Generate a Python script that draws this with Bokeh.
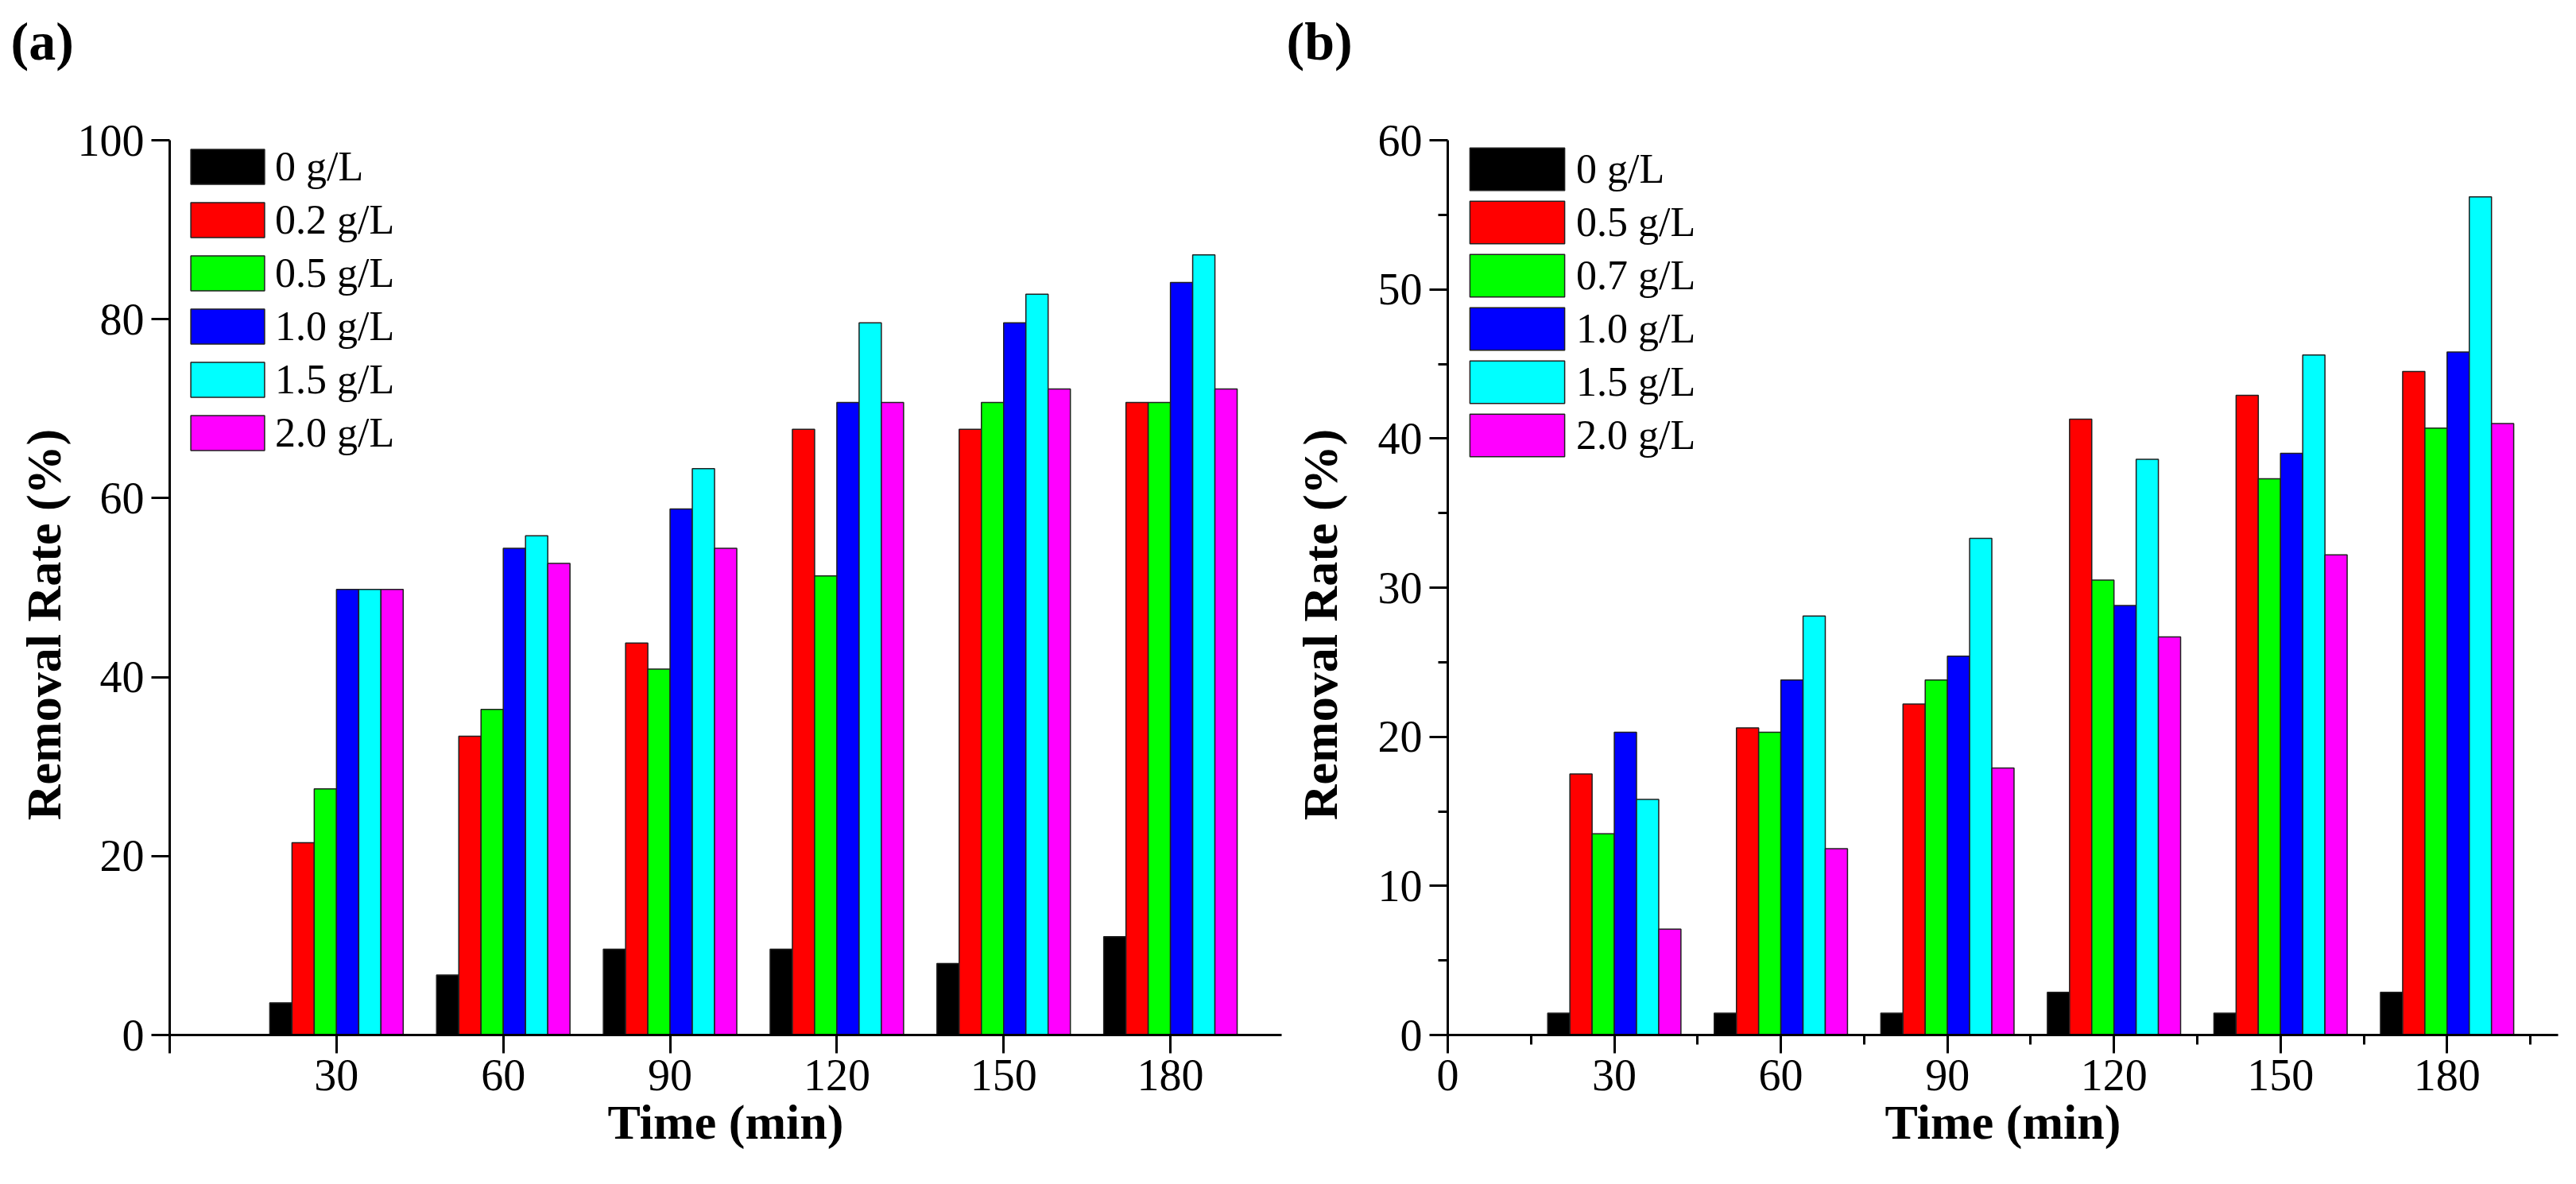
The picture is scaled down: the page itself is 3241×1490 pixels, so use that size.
from bokeh.plotting import figure
from bokeh.models import Range1d, FixedTicker, ColumnDataSource, Legend, LegendItem, Title
from bokeh.layouts import row
from bokeh.transform import dodge
from bokeh.embed import file_html
from bokeh.resources import INLINE

# ---------------- data ----------------
times = [30, 60, 90, 120, 150, 180]

a_labels = ["0 g/L", "0.2 g/L", "0.5 g/L", "1.0 g/L", "1.5 g/L", "2.0 g/L"]
a_0 = [3.6, 6.7, 9.6, 9.6, 8.0, 11.0]
a_02 = [21.5, 33.4, 43.8, 67.7, 67.7, 70.7]
a_05 = [27.5, 36.4, 40.9, 51.3, 70.7, 70.7]
a_10 = [49.8, 54.4, 58.8, 70.7, 79.6, 84.1]
a_15 = [49.8, 55.8, 63.3, 79.6, 82.8, 87.2]
a_20 = [49.8, 52.7, 54.4, 70.7, 72.2, 72.2]

b_labels = ["0 g/L", "0.5 g/L", "0.7 g/L", "1.0 g/L", "1.5 g/L", "2.0 g/L"]
b_0 = [1.46, 1.46, 1.46, 2.87, 1.46, 2.87]
b_05 = [17.5, 20.6, 22.2, 41.3, 42.9, 44.5]
b_07 = [13.5, 20.3, 23.8, 30.5, 37.3, 40.7]
b_10 = [20.3, 23.8, 25.4, 28.8, 39.0, 45.8]
b_15 = [15.8, 28.1, 33.3, 38.6, 45.6, 56.2]
b_20 = [7.1, 12.5, 17.9, 26.7, 32.2, 41.0]

a_xticks = [0, 30, 60, 90, 120, 150, 180]
b_xticks = [0, 30, 60, 90, 120, 150, 180]
b_xminor = [15, 45, 75, 105, 135, 165, 195]
a_yticks = [0, 20, 40, 60, 80, 100]
b_yticks = [0, 10, 20, 30, 40, 50, 60]
b_yminor = [5, 15, 25, 35, 45, 55]

x_title = "Time (min)"
y_title = "Removal Rate (%)"

colors = ["#000000", "#FF0000", "#00FF00", "#0000FF", "#00FFFF", "#FF00FF"]
offsets = [-10, -6, -2, 2, 6, 10]
BAR_W = 4

SERIF = "Liberation Serif"
NBSP = "\u00a0"


def make_panel(tag, labels, series, yticks, ymax, xminor, yminor, hide_x0,
               width, height, bl, br, bt, bb, leg_x, leg_y, gw, gh, gsp,
               lstand, ylab_standoff, tag_off, spacer):
    p = figure(width=width, height=height, output_backend="svg",
               toolbar_location=None, x_range=Range1d(0, 200),
               y_range=Range1d(0, ymax), min_border_left=bl,
               min_border_right=br, min_border_top=bt, min_border_bottom=bb,
               title=None)
    p.outline_line_color = None
    p.grid.visible = False
    p.background_fill_color = "white"
    p.border_fill_color = "white"

    # empty spacer title pushes the panel tag up into the top margin
    p.add_layout(Title(text=" ", text_font_size="1px", standoff=spacer), "above")
    p.add_layout(Title(text=tag, align="left", offset=tag_off, standoff=0,
                       vertical_align="bottom", text_font=SERIF,
                       text_font_style="bold", text_font_size="68px",
                       text_color="black"), "above")

    data = {"t": times}
    for i, s in enumerate(series):
        data[f"s{i}"] = s
    src = ColumnDataSource(data)

    items = []
    for i, (lab, col) in enumerate(zip(labels, colors)):
        r = p.vbar(x=dodge("t", offsets[i]), top=f"s{i}", bottom=0,
                   width=BAR_W, source=src, fill_color=col,
                   line_color="#202020", line_width=1.5)
        items.append(LegendItem(label=lab, renderers=[r]))

    leg = Legend(items=items, location=(leg_x, leg_y), padding=0, margin=0,
                 spacing=gsp, glyph_width=gw, glyph_height=gh,
                 label_standoff=lstand, border_line_color=None,
                 background_fill_alpha=0,
                 label_text_font=SERIF, label_text_font_size="52px",
                 label_text_color="black")
    p.add_layout(leg)

    p.xaxis.ticker = FixedTicker(ticks=a_xticks if hide_x0 else b_xticks,
                                 minor_ticks=xminor)
    if hide_x0:
        p.xaxis.major_label_overrides = {0: ""}
    p.yaxis.ticker = FixedTicker(ticks=yticks, minor_ticks=yminor)

    for ax in (p.xaxis[0], p.yaxis[0]):
        ax.axis_line_width = 3
        ax.axis_line_color = "black"
        ax.major_tick_line_width = 3
        ax.major_tick_line_color = "black"
        ax.minor_tick_line_width = 3
        ax.minor_tick_line_color = "black"
        ax.major_tick_in = 0
        ax.major_tick_out = 23
        ax.minor_tick_in = 0
        ax.minor_tick_out = 12
        ax.major_label_text_font = SERIF
        ax.major_label_text_font_size = "56px"
        ax.major_label_text_color = "black"
        ax.axis_label_text_font = SERIF
        ax.axis_label_text_font_style = "bold"
        ax.axis_label_text_font_size = "62px"
        ax.axis_label_text_color = "black"

    p.xaxis.axis_label = x_title
    # trailing no-break spaces shift the visible label slightly downward
    p.yaxis.axis_label = y_title + NBSP * 6
    p.xaxis.major_label_standoff = 8
    p.xaxis.axis_label_standoff = 3
    p.yaxis.major_label_standoff = 9
    p.yaxis.axis_label_standoff = ylab_standoff
    return p


pa = make_panel("(a)", a_labels, [a_0, a_02, a_05, a_10, a_15, a_20],
                a_yticks, 100, [], [], True,
                1614, 1482, 213, 2, 176, 180,
                15, 728, 116, 55, 8, 2, 6, -200, 84)

pb = make_panel("(b)", b_labels, [b_0, b_05, b_07, b_10, b_15, b_20],
                b_yticks, 60, b_xminor, b_yminor, False,
                1619, 1482, 207, 15, 176, 180,
                13, 721, 149, 67, 0, 0, 36, -203, 84)

layout = row(pa, pb)
open("out.html", "w").write(file_html(layout, INLINE))
